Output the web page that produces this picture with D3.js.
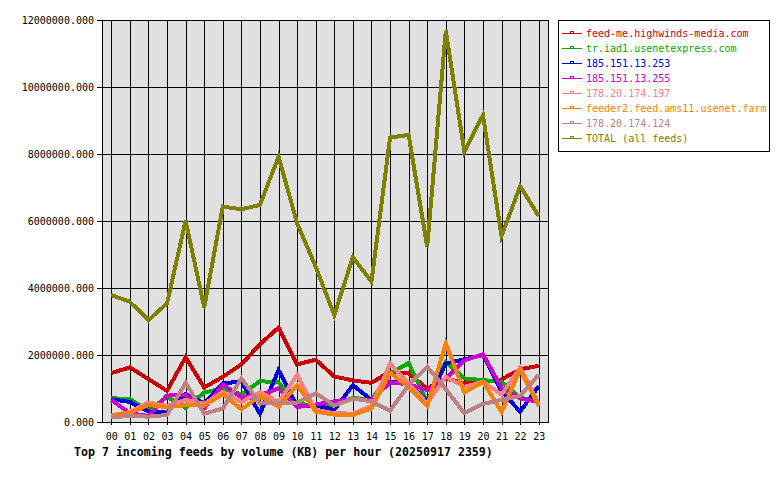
<!DOCTYPE html>
<html>
<head>
<meta charset="utf-8">
<script src="https://cdn.jsdelivr.net/npm/d3@7/dist/d3.min.js"></script>
<style>
  body { margin: 0; background: #fff; }
  svg { display: block; }
  text { font-family: "DejaVu Sans Mono", "Liberation Mono", monospace; }
</style>
</head>
<body>
<svg id="chart" width="780" height="480"></svg>
<script>
// hours on the x axis
const hours = d3.range(24).map(h => (h < 10 ? '0' : '') + h);

// feed names in legend order
const feedNames = [
  'feed-me.highwinds-media.com',
  'tr.iad1.usenetexpress.com',
  '185.151.13.253',
  '185.151.13.255',
  '178.20.174.197',
  'feeder2.feed.ams11.usenet.farm',
  '178.20.174.124',
  'TOTAL (all feeds)'
];

const feedColors = ['#cc0000', '#00aa00', '#0000dd', '#cc00cc', '#ff8080', '#ff8000', '#c08080', '#808000'];

// KB per hour, in millions
const highwinds = [1.46, 1.63, 1.28, 0.93, 1.93, 1.03, 1.35, 1.72, 2.32, 2.82, 1.72, 1.86, 1.36, 1.24, 1.17, 1.50, 1.45, 1.00, 1.30, 1.15, 1.20, 1.27, 1.57, 1.68];
const usenetexpress = [0.71, 0.68, 0.34, 0.75, 0.42, 0.88, 1.00, 0.82, 1.22, 1.18, 0.55, 0.48, 0.50, 0.72, 0.66, 1.45, 1.76, 0.60, 1.80, 1.30, 1.25, 1.20, 0.72, 0.62];
const ip253 = [0.68, 0.60, 0.31, 0.28, 0.84, 0.55, 1.16, 1.20, 0.24, 1.55, 0.46, 0.50, 0.36, 1.10, 0.66, 1.20, 1.18, 0.62, 1.75, 1.87, 2.00, 0.92, 0.31, 1.07];
const ip255 = [0.66, 0.26, 0.18, 0.79, 0.80, 0.41, 1.12, 0.74, 0.80, 1.00, 0.45, 0.52, 0.62, 0.68, 0.66, 1.18, 1.13, 0.95, 1.30, 1.84, 2.02, 1.02, 0.70, 0.60];
const ip197 = [0.20, 0.30, 0.58, 0.48, 0.66, 0.54, 0.90, 0.60, 0.89, 0.60, 1.40, 0.36, 0.26, 0.25, 0.48, 1.74, 1.15, 0.56, 1.35, 1.05, 1.20, 0.82, 1.63, 0.55];
const feeder2 = [0.21, 0.26, 0.51, 0.44, 0.50, 0.49, 0.83, 0.38, 0.78, 0.45, 1.10, 0.31, 0.22, 0.21, 0.40, 1.47, 1.04, 0.47, 2.35, 0.88, 1.20, 0.30, 1.57, 0.47];
const ip124 = [0.14, 0.18, 0.16, 0.21, 1.17, 0.25, 0.40, 1.30, 0.55, 0.58, 0.58, 0.86, 0.49, 0.70, 0.62, 0.34, 1.10, 1.65, 0.98, 0.26, 0.54, 0.66, 0.78, 1.41];
const total = [3.79, 3.59, 3.04, 3.54, 6.01, 3.42, 6.43, 6.35, 6.48, 7.92, 5.93, 4.64, 3.19, 4.92, 4.19, 8.49, 8.57, 5.23, 11.68, 8.07, 9.16, 5.55, 7.04, 6.15];

const yTicks = d3.range(0, 12000001, 2000000);
const title = 'Top 7 incoming feeds by volume (KB) per hour (20250917 2359)';

const series = [highwinds, usenetexpress, ip253, ip255, ip197, feeder2, ip124, total];

const svg = d3.select('#chart');
const plotLeft = 102, plotRight = 548, plotTop = 20, plotBottom = 422;

const x = d3.scalePoint()
  .domain(hours)
  .range([plotLeft, plotRight])
  .padding(0.5);

const y = d3.scaleLinear()
  .domain([0, 12000000])
  .range([plotBottom, plotTop]);

// plot background
svg.append('rect')
  .attr('x', plotLeft)
  .attr('y', plotTop)
  .attr('width', plotRight - plotLeft)
  .attr('height', plotBottom - plotTop)
  .attr('fill', '#e0e0e0');

// grid
const grid = svg.append('g')
  .attr('shape-rendering', 'crispEdges')
  .attr('stroke', '#000')
  .attr('stroke-width', 1);

grid.selectAll('line.v')
  .data(hours)
  .enter().append('line')
  .attr('class', 'v')
  .attr('x1', d => Math.round(x(d)) + 0.5)
  .attr('x2', d => Math.round(x(d)) + 0.5)
  .attr('y1', plotTop)
  .attr('y2', plotBottom + 3);

grid.selectAll('line.h')
  .data(yTicks)
  .enter().append('line')
  .attr('class', 'h')
  .attr('x1', plotLeft - 5)
  .attr('x2', plotRight)
  .attr('y1', d => Math.round(y(d)) + 0.5)
  .attr('y2', d => Math.round(y(d)) + 0.5);

grid.append('rect')
  .attr('x', plotLeft + 0.5)
  .attr('y', plotTop + 0.5)
  .attr('width', plotRight - plotLeft)
  .attr('height', plotBottom - plotTop)
  .attr('fill', 'none');

// y axis labels
svg.selectAll('text.ylab')
  .data(yTicks)
  .enter().append('text')
  .attr('class', 'ylab')
  .attr('x', 94)
  .attr('y', d => y(d) + 4)
  .attr('text-anchor', 'end')
  .attr('font-size', 10)
  .attr('fill', '#000')
  .text(d3.format('.3f'));

// x axis labels
svg.selectAll('text.xlab')
  .data(hours)
  .enter().append('text')
  .attr('class', 'xlab')
  .attr('x', d => x(d) + 0.5)
  .attr('y', 440)
  .attr('text-anchor', 'middle')
  .attr('font-size', 10)
  .attr('fill', '#000')
  .text(d => d);

// lines
const line = d3.line()
  .x((d, i) => x(hours[i]))
  .y(d => y(d * 1e6));

svg.append('g')
  .selectAll('path')
  .data(series)
  .enter().append('path')
  .attr('d', line)
  .attr('fill', 'none')
  .attr('stroke', (d, i) => feedColors[i])
  .attr('stroke-width', 4)
  .attr('stroke-linejoin', 'miter')
  .attr('shape-rendering', 'crispEdges');

// legend
const legend = svg.append('g');
legend.append('rect')
  .attr('x', 558.5)
  .attr('y', 20.5)
  .attr('width', 211)
  .attr('height', 131)
  .attr('fill', '#fff')
  .attr('stroke', '#000')
  .attr('shape-rendering', 'crispEdges');

const item = legend.selectAll('g.item')
  .data(feedNames)
  .enter().append('g')
  .attr('class', 'item')
  .attr('transform', (d, i) => `translate(0,${33 + i * 15})`);

item.append('line')
  .attr('x1', 562)
  .attr('x2', 582)
  .attr('y1', 0.5)
  .attr('y2', 0.5)
  .attr('stroke', (d, i) => feedColors[i])
  .attr('shape-rendering', 'crispEdges');

item.append('rect')
  .attr('x', 570.5)
  .attr('y', -1.5)
  .attr('width', 3)
  .attr('height', 2)
  .attr('fill', 'none')
  .attr('stroke', (d, i) => feedColors[i])
  .attr('shape-rendering', 'crispEdges');

item.append('text')
  .attr('x', 586)
  .attr('y', 4)
  .attr('font-size', 10)
  .attr('fill', (d, i) => feedColors[i])
  .text(d => d);

// title
svg.append('text')
  .attr('x', 74)
  .attr('y', 456)
  .attr('font-size', 11.6)
  .attr('font-weight', 'bold')
  .attr('fill', '#000')
  .text(title);
</script>
</body>
</html>
